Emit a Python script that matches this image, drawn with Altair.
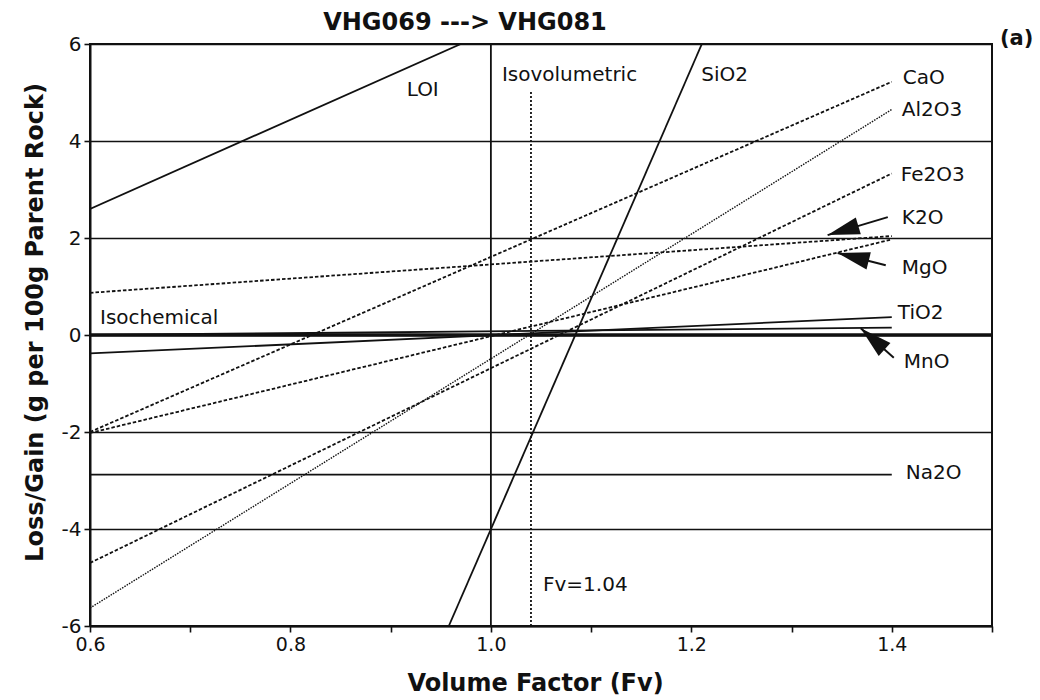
import math
import altair as alt
import pandas as pd

# ---------------- data ----------------
series = ["LOI", "SiO2", "CaO", "Al2O3", "Fe2O3", "K2O", "MgO", "TiO2", "MnO", "Na2O"]
line_style = ["solid", "solid", "dashed", "dotted", "dashed", "dashed", "dashed", "solid", "solid", "solid"]
x_start = [0.6, 0.958, 0.6, 0.6, 0.6, 0.6, 0.6, 0.6, 0.6, 0.6]
y_start = [2.6, -6.0, -2.0, -5.63, -4.7, 0.87, -2.02, -0.38, 0.0, -2.88]
x_end = [0.97, 1.2105, 1.4, 1.4, 1.4, 1.4, 1.4, 1.4, 1.4, 1.4]
y_end = [6.0, 6.0, 5.22, 4.65, 3.33, 2.04, 1.97, 0.37, 0.15, -2.88]

# reference lines
ref_names = ["Isochemical", "Isovolumetric", "Fv=1.04"]
ref_x_start = [0.6, 1.0, 1.04]
ref_y_start = [0.0, -6.0, -6.0]
ref_x_end = [1.5, 1.0, 1.04]
ref_y_end = [0.0, 6.0, 5.05]

# text labels
label_text = ["LOI", "Isovolumetric", "SiO2", "CaO", "Al2O3", "Fe2O3", "K2O", "MgO",
              "TiO2", "MnO", "Na2O", "Isochemical", "Fv=1.04"]
label_x = [0.916, 1.011, 1.21, 1.411, 1.410, 1.409, 1.410, 1.410, 1.406, 1.412, 1.414, 0.61, 1.052]
label_y = [5.05, 5.36, 5.36, 5.30, 4.64, 3.30, 2.41, 1.38, 0.45, -0.56, -2.85, 0.35, -5.15]

# arrows pointing from labels to lines
arrow_name = ["K2O", "MgO", "MnO"]
arrow_tail_x = [1.396, 1.394, 1.402]
arrow_tail_y = [2.43, 1.44, -0.47]
arrow_tip_x = [1.336, 1.346, 1.369]
arrow_tip_y = [2.06, 1.69, 0.14]

x_ticks = [0.6, 0.7, 0.8, 0.9, 1.0, 1.1, 1.2, 1.3, 1.4, 1.5]
y_ticks = [-6, -4, -2, 0, 2, 4, 6]

title_text = "VHG069 ---> VHG081"
panel_text = "(a)"

# ---------------- layout ----------------
XMIN, XMAX, YMIN, YMAX = 0.6, 1.5, -6, 6
W, H = 902, 582
XS, YS = W / (XMAX - XMIN), H / (YMAX - YMIN)
FONT = "DejaVu Sans"
INK = "#111111"

lines_rows = []
for n, s, xa, ya, xb, yb in zip(series, line_style, x_start, y_start, x_end, y_end):
    lines_rows.append({"name": n, "style": s, "x": xa, "y": ya, "idx": 0})
    lines_rows.append({"name": n, "style": s, "x": xb, "y": yb, "idx": 1})
lines_df = pd.DataFrame(lines_rows)

ref_rows = []
for n, xa, ya, xb, yb in zip(ref_names, ref_x_start, ref_y_start, ref_x_end, ref_y_end):
    ref_rows.append({"name": n, "x": xa, "y": ya, "idx": 0})
    ref_rows.append({"name": n, "x": xb, "y": yb, "idx": 1})
ref_df = pd.DataFrame(ref_rows)

labels_df = pd.DataFrame({"text": label_text, "x": label_x, "y": label_y})

HEAD_HALF = 16
arrow_rows = []
for n, tx, ty, px, py in zip(arrow_name, arrow_tail_x, arrow_tail_y, arrow_tip_x, arrow_tip_y):
    dxp = (px - tx) * XS
    dyp = -(py - ty) * YS
    ln = math.hypot(dxp, dyp)
    ang = math.degrees(math.atan2(dxp, -dyp)) % 360
    hx = px - dxp / ln * HEAD_HALF / XS
    hy = py + dyp / ln * HEAD_HALF / YS
    arrow_rows.append({"name": n, "x": tx, "y": ty, "x2": px, "y2": py,
                       "hx": hx, "hy": hy, "angle": ang})
arrow_df = pd.DataFrame(arrow_rows)

xscale = alt.Scale(domain=[XMIN, XMAX], nice=False, zero=False)
yscale = alt.Scale(domain=[YMIN, YMAX], nice=False, zero=False)

x_axis = alt.Axis(
    values=x_ticks,
    labelExpr="(datum.value < 1.45 && round(datum.value * 10) % 2 == 0) ? format(datum.value, '.1f') : ''",
    title="Volume Factor (Fv)", grid=False,
    tickSize=6, tickWidth=1.6, tickColor=INK,
    domainColor=INK, domainWidth=2,
    labelFont=FONT, labelFontSize=19, labelColor=INK, labelPadding=3, labelFlush=False,
    titleFont=FONT, titleFontSize=24, titleFontWeight="bold", titleColor=INK,
    titleX=445, titleY=64, titleBaseline="alphabetic", titleAlign="center",
)
y_axis = alt.Axis(
    values=y_ticks, labelExpr="'' + datum.value",
    title="Loss/Gain (g per 100g Parent Rock)",
    grid=True, gridColor=INK, gridWidth=1.6,
    tickSize=6, tickWidth=1.6, tickColor=INK,
    domainColor=INK, domainWidth=2,
    labelFont=FONT, labelFontSize=20, labelColor=INK, labelPadding=3, labelFlush=False,
    titleFont=FONT, titleFontSize=24, titleFontWeight="bold", titleColor=INK,
    titleX=-48, titleY=278, titleAngle=270, titleBaseline="alphabetic", titleAlign="center",
)

X = alt.X("x:Q", scale=xscale, axis=x_axis)
Y = alt.Y("y:Q", scale=yscale, axis=y_axis)

base_lines = alt.Chart(lines_df)
solid = base_lines.transform_filter("datum.style == 'solid'").mark_line(
    color=INK, strokeWidth=1.8, clip=True
).encode(x=X, y=Y, detail="name:N", order="idx:Q")
dashed = base_lines.transform_filter("datum.style == 'dashed'").mark_line(
    color=INK, strokeWidth=1.8, strokeDash=[3.5, 2], clip=True
).encode(x=X, y=Y, detail="name:N", order="idx:Q")
dotted = base_lines.transform_filter("datum.style == 'dotted'").mark_line(
    color=INK, strokeWidth=1.4, strokeDash=[1.5, 1.2], clip=True
).encode(x=X, y=Y, detail="name:N", order="idx:Q")

base_ref = alt.Chart(ref_df)
isochem = base_ref.transform_filter("datum.name == 'Isochemical'").mark_line(
    color=INK, strokeWidth=3.4
).encode(x=X, y=Y, detail="name:N", order="idx:Q")
isovol = base_ref.transform_filter("datum.name == 'Isovolumetric'").mark_line(
    color=INK, strokeWidth=1.8
).encode(x=X, y=Y, detail="name:N", order="idx:Q")
fv = base_ref.transform_filter("datum.name == 'Fv=1.04'").mark_line(
    color=INK, strokeWidth=1.8, strokeDash=[2, 2]
).encode(x=X, y=Y, detail="name:N", order="idx:Q")

labels = alt.Chart(labels_df).mark_text(
    align="left", baseline="middle", font=FONT, fontSize=20, color=INK
).encode(x=X, y=Y, text="text:N")

panel = alt.Chart(pd.DataFrame({"text": [panel_text], "x": [1.508], "y": [5.98]})).mark_text(
    align="left", baseline="alphabetic", font=FONT, fontSize=21, fontWeight="bold", color=INK
).encode(x=X, y=Y, text="text:N")

title = alt.Chart(pd.DataFrame({"text": [title_text]})).mark_text(
    align="center", baseline="alphabetic", font=FONT, fontSize=24, fontWeight="bold", color=INK
).encode(x=alt.value(375), y=alt.value(-14), text="text:N")

shafts = alt.Chart(arrow_df).mark_rule(color=INK, strokeWidth=2).encode(
    x=X, y=Y, x2="x2:Q", y2="y2:Q"
)
heads = alt.Chart(arrow_df).mark_point(
    shape="M0,-1L0.55,1L-0.55,1Z", filled=True, size=1024, color=INK, opacity=1
).encode(
    x=alt.X("hx:Q", scale=xscale, axis=x_axis),
    y=alt.Y("hy:Q", scale=yscale, axis=y_axis),
    angle=alt.Angle("angle:Q", scale=None),
)

chart = alt.layer(
    isochem, isovol, fv, solid, dashed, dotted, labels, panel, title, shafts, heads
).properties(
    width=W, height=H,
    autosize=alt.AutoSizeParams(type="none"),
    padding={"left": 90, "top": 44, "right": 48, "bottom": 74},
    background="white",
).configure_view(stroke=INK, strokeWidth=2)

chart.save("out.html", embed_options={"renderer": "svg", "actions": False})
